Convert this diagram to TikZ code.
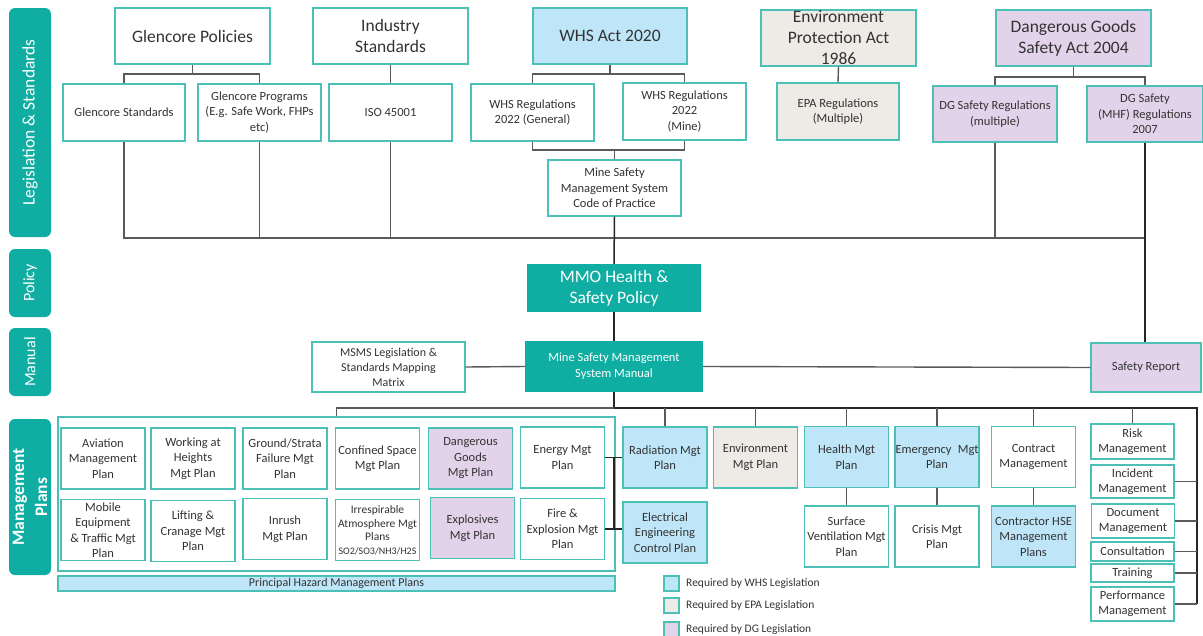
\documentclass[tikz,border=0pt]{standalone}
\usepackage{fontspec}
\setmainfont{Carlito}
\definecolor{tealb}{HTML}{4BC0B6}
\definecolor{tealf}{HTML}{0FADA2}
\definecolor{lblue}{HTML}{BEE5F8}
\definecolor{beige}{HTML}{EEEAE5}
\definecolor{lav}{HTML}{E3D3EA}
\definecolor{txt}{HTML}{333333}
\definecolor{ln}{HTML}{5A5A5A}
\tikzset{
 bx/.style={draw=tealb, line width=1.2pt, fill=white, align=center, inner sep=0pt, text=txt, font=\fontsize{12.5}{15.5}\selectfont},
 big/.style={font=\fontsize{17.5}{21}\selectfont},
 whs/.style={fill=lblue}, epa/.style={fill=beige}, dgs/.style={fill=lav},
 sz/.style n args={2}{minimum width=#1, minimum height=#2},
 gbx/.style={bx, minimum width=84pt, minimum height=61pt},
 side/.style={fill=tealf, rounded corners=6pt, text=white, align=center, inner sep=0pt, rotate=90, minimum height=42pt},
 tealbox/.style={fill=tealf, text=white, align=center, inner sep=0pt},
 conn/.style={draw=ln, line width=1.4pt},
 mainl/.style={draw=black!85, line width=1.5pt},
 bus/.style={draw=black!85, line width=1.8pt},
 legsq/.style={draw=tealb, line width=1.2pt, minimum size=15pt, inner sep=0pt},
 legtx/.style={anchor=west, text=txt, font=\fontsize{11.5}{13}\selectfont, inner sep=0pt}
}
\begin{document}
\begin{tikzpicture}[x=1pt,y=-1pt]
\useasboundingbox (0,0) rectangle (1203,635);
% sidebars
\node[side, minimum width=229pt, font=\fontsize{17.5}{21}\selectfont] (sleg) at (30,122.5) {Legislation \& Standards};
\node[side, minimum width=68pt, font=\fontsize{16}{19}\selectfont] (spol) at (30,283) {Policy};
\node[side, minimum width=68pt, font=\fontsize{16}{19}\selectfont] (sman) at (30,362) {Manual};
\node[side, minimum width=156pt, font=\bfseries\fontsize{17.5}{23}\selectfont] (smgt) at (30,497) {Management\\Plans};
% top row
\node[bx,big,sz={155pt}{56pt}] (gpol) at (192.5,36) {Glencore Policies};
\node[bx,big,sz={155pt}{56pt}] (istd) at (390.5,36) {Industry\\Standards};
\node[bx,big,whs,sz={154pt}{56pt}] (whsact) at (610,36) {WHS Act 2020};
\node[bx,big,epa,sz={155pt}{56pt}] (epaact) at (838.5,38) {Environment\\Protection Act\\1986};
\node[bx,big,dgs,sz={155pt}{56pt}] (dgact) at (1073.5,38) {Dangerous Goods\\Safety Act 2004};
% second row
\node[bx,sz={122pt}{57pt}] (gstd) at (124,112.5) {Glencore Standards};
\node[bx,sz={123pt}{57pt}] (gprog) at (259.5,112.5) {Glencore Programs\\(E.g. Safe Work, FHPs\\etc)};
\node[bx,sz={123pt}{57pt}] (iso) at (390.5,112.5) {ISO 45001};
\node[bx,sz={123pt}{57pt}] (whsgen) at (532.5,112.5) {WHS Regulations\\2022 (General)};
\node[bx,sz={123pt}{57pt}] (whsmine) at (684.5,111.5) {WHS Regulations\\2022\\(Mine)};
\node[bx,epa,sz={122pt}{57pt}] (eparegs) at (838,111.5) {EPA Regulations\\(Multiple)};
\node[bx,dgs,sz={124pt}{56pt}] (dgregs) at (995,114) {DG Safety Regulations\\(multiple)};
\node[bx,dgs,sz={116pt}{56pt}] (mhf) at (1145,114) {DG Safety\\(MHF) Regulations\\2007};
\node[bx,sz={133pt}{56pt}] (cop) at (614.5,188) {Mine Safety\\Management System\\Code of Practice};
% policy & manual
\node[tealbox,sz={174pt}{48pt},font=\fontsize{17.5}{21}\selectfont] (mmo) at (614,288) {MMO Health \&\\Safety Policy};
\node[tealbox,sz={178pt}{51pt},font=\fontsize{12.5}{16}\selectfont] (msms) at (614,366.5) {Mine Safety Management\\System Manual};
\node[bx,sz={153pt}{50pt},font=\fontsize{12}{15}\selectfont] (matrix) at (388.5,367) {MSMS Legislation \&\\Standards Mapping\\Matrix};
\node[bx,dgs,sz={110pt}{49pt}] (sr) at (1146,367.5) {Safety Report};
% top connectors
\coordinate (gj) at (192.5,74);
\draw[conn] (gpol.south) -- (gj);
\draw[conn] (gstd.north) |- (gj) -| (gprog.north);
\draw[conn] (istd.south) -- (iso.north);
\coordinate (wj) at (610,74);
\draw[conn] (whsact.south) -- (wj);
\draw[conn] (whsgen.north) |- (wj) -| (whsmine.north);
\coordinate (wj2) at (614.5,150);
\draw[conn] (whsgen.south) |- (wj2) -| (whsmine.south);
\draw[conn] (wj2) -- (cop.north);
\draw[conn] (epaact.south) -- (eparegs.north);
\coordinate (dj) at (1073.5,77);
\draw[conn] (dgact.south) -- (dj);
\draw[conn] (dgregs.north) |- (dj) -| (mhf.north);
% bus 1
\coordinate (b1) at (614.5,238);
\draw[conn] (gstd.south) |- (mhf.south |- b1);
\draw[conn] (gprog.south) -- (gprog.south |- b1);
\draw[conn] (iso.south) -- (iso.south |- b1);
\draw[conn] (dgregs.south) -- (dgregs.south |- b1);
\draw[mainl] (mhf.south) -- (mhf.south |- sr.north);
\draw[mainl] (cop.south) -- (mmo.north);
\draw[mainl] (mmo.south) -- (msms.north);
\draw[conn] (matrix.east) -- (msms.west);
\draw[conn] (msms.east) -- (sr.west);
% management plans container
\node[draw=tealb, line width=1.2pt, fill=white, minimum width=557pt, minimum height=154pt, inner sep=0pt] (phmp) at (336.5,494) {};
\node[draw=tealb, line width=1.2pt, fill=lblue, minimum width=557pt, minimum height=15pt, inner sep=0pt, text=txt, font=\fontsize{12}{14}\selectfont] (phbar) at (336.5,583.5) {Principal Hazard Management Plans};
\node[gbx] (avi) at (103,458.5) {Aviation\\Management\\Plan};
\node[gbx] (wah) at (193,458.5) {Working at\\Heights\\Mgt Plan};
\node[gbx] (gsf) at (285,458.5) {Ground/Strata\\Failure Mgt\\Plan};
\node[gbx] (csp) at (377.5,458.5) {Confined Space\\Mgt Plan};
\node[gbx,dgs] (dgp) at (470.5,458.5) {Dangerous\\Goods\\Mgt Plan};
\node[gbx] (energy) at (562.5,457.5) {Energy Mgt\\Plan};
\node[gbx] (mob) at (103,530) {Mobile\\Equipment\\\& Traffic Mgt\\Plan};
\node[gbx] (lift) at (193,531) {Lifting \&\\Cranage Mgt\\Plan};
\node[gbx] (inr) at (285,529) {Inrush\\Mgt Plan};
\node[gbx,font=\fontsize{11.5}{13.5}\selectfont] (irr) at (377.5,530) {Irrespirable\\Atmosphere Mgt\\Plans\\{\fontsize{10}{12}\selectfont SO2/SO3/NH3/H2S}};
\node[gbx,dgs] (expl) at (472.5,528) {Explosives\\Mgt Plan};
\node[gbx] (fire) at (562.5,529) {Fire \&\\Explosion Mgt\\Plan};
% right plans
\node[gbx,whs] (rad) at (665,457.5) {Radiation Mgt\\Plan};
\node[gbx,whs] (elec) at (665,532.5) {Electrical\\Engineering\\Control Plan};
\node[gbx,epa] (env) at (755.5,457.5) {Environment\\Mgt Plan};
\node[gbx,whs] (health) at (846.5,457) {Health Mgt\\Plan};
\node[gbx] (surf) at (846.5,536.5) {Surface\\Ventilation Mgt\\Plan};
\node[gbx,whs] (emerg) at (937,457) {Emergency\enspace Mgt\\Plan};
\node[gbx] (crisis) at (937,536.5) {Crisis Mgt\\Plan};
\node[gbx] (contract) at (1033.5,457) {Contract\\Management};
\node[gbx,whs] (chse) at (1033.5,536.5) {Contractor HSE\\Management\\Plans};
\node[bx,sz={83pt}{35pt}] (risk) at (1132.5,441.5) {Risk\\Management};
\node[bx,sz={83pt}{33pt}] (incident) at (1132.5,481.5) {Incident\\Management};
\node[bx,sz={83pt}{34pt}] (document) at (1133,521) {Document\\Management};
\node[bx,sz={83pt}{19pt}] (consult) at (1132.5,551.5) {Consultation};
\node[bx,sz={83pt}{18pt}] (training) at (1132.5,573) {Training};
\node[bx,sz={83pt}{34pt}] (perf) at (1132.5,604) {Performance\\Management};
% bus 2
\coordinate (b2) at (614,408);
\coordinate (b2r) at (1197,408);
\draw[mainl] (msms.south) -- (b2);
\draw[conn] (b2) -- (phmp.north |- b2) -- (phmp.north);
\draw[bus] (b2) -- (b2r) -- (b2r |- perf.east);
\foreach \n in {rad,env,health,emerg,contract,risk}{\draw[conn] (\n.north |- b2) -- (\n.north);}
\foreach \n in {incident,document,consult,training,perf}{\draw[conn] (\n.east) -- (\n.east -| b2r);}
\draw[conn] (health.south) -- (surf.north);
\draw[conn] (emerg.south) -- (crisis.north);
\draw[conn] (contract.south) -- (chse.north);
\coordinate (ej1) at (614,457.5);
\coordinate (ej2) at (614,530);
\draw[mainl] (energy.east) -- (rad.west);
\draw[mainl] (ej1) -- (ej2);
\draw[mainl] (fire.east) -- (fire.east -| elec.west);
% legend
\node[legsq,fill=lblue] (lg1) at (671.5,583.5) {};
\node[legtx] (lt1) at (686,583.5) {Required by WHS Legislation};
\node[legsq,fill=beige] (lg2) at (671.5,605.5) {};
\node[legtx] (lt2) at (686,605.5) {Required by EPA Legislation};
\node[legsq,fill=lav] (lg3) at (671.5,629.5) {};
\node[legtx] (lt3) at (686,629.5) {Required by DG Legislation};
\end{tikzpicture}
\end{document}
